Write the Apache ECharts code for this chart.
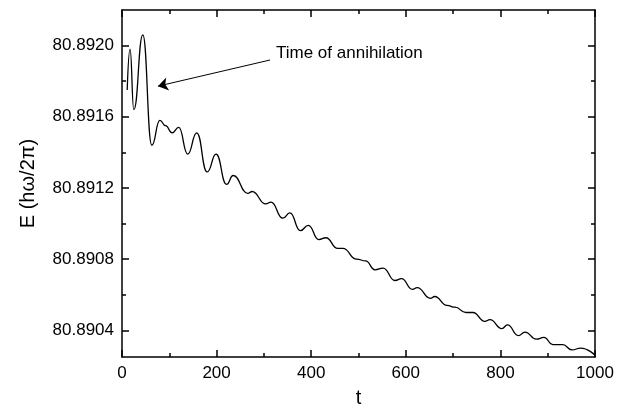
<!DOCTYPE html>
<html><head><meta charset="utf-8">
<script src="https://cdn.jsdelivr.net/npm/echarts@6/dist/echarts.min.js"></script>
<style>html,body{margin:0;padding:0;background:#fff}#c{width:625px;height:412px}</style>
</head><body><div id="c"></div>
<script>
const tValues = [11, 17, 25, 44, 63, 80, 92, 106, 120, 139, 158, 180, 199, 221, 235, 266, 275, 304, 315, 340, 355, 377, 394, 416, 431, 456, 467, 496, 515, 535, 552, 577, 591, 614, 624, 652, 661, 687, 704, 727, 742, 767, 778, 803, 815, 838, 852, 876, 892, 911, 932, 951, 970, 1000];
const eValues = [80.89175, 80.89198, 80.89164, 80.89206, 80.89144, 80.89158, 80.89155, 80.89151, 80.89154, 80.89139, 80.89151, 80.89129, 80.89139, 80.89122, 80.89127, 80.89117, 80.89118, 80.89111, 80.89112, 80.89103, 80.89106, 80.89096, 80.89099, 80.89091, 80.89092, 80.89086, 80.89086, 80.89080, 80.89079, 80.89074, 80.89075, 80.89068, 80.89069, 80.89063, 80.89064, 80.89058, 80.89059, 80.89054, 80.89053, 80.89050, 80.89050, 80.89045, 80.89046, 80.89041, 80.89043, 80.89037, 80.89039, 80.89035, 80.89036, 80.89032, 80.89032, 80.89029, 80.89030, 80.89026];
const yLabelValues = [80.8904, 80.8908, 80.8912, 80.8916, 80.8920];
const yMinorValues = [80.8906, 80.8910, 80.8914, 80.8918];
const xMin = 0, xMax = 1000, xInterval = 200;
const yMin = 80.89025, yMax = 80.8922;
const annotationText = 'Time of annihilation';
const arrowFrom = [313, 80.891919];
const arrowTo = [76, 80.891772];

const FONT = 'Liberation Sans, Arial, Helvetica, sans-serif';
const black = '#000';
const frameLine = {show: true, lineStyle: {color: black, width: 1.5}};

function xAx(pos, showLabel) {
  return {
    type: 'value', position: pos, min: xMin, max: xMax, interval: xInterval,
    axisLine: frameLine,
    axisTick: {show: true, inside: true, length: 7, lineStyle: {color: black, width: 1.5}},
    minorTick: {show: true, splitNumber: 2, length: 4, lineStyle: {color: black, width: 1.5}},
    splitLine: {show: false}, minorSplitLine: {show: false},
    axisLabel: {show: showLabel, color: black, fontSize: 17, fontFamily: FONT, margin: 8,
      formatter: v => String(v)},
    name: showLabel ? 't' : '', nameLocation: 'middle', nameGap: 31,
    nameTextStyle: {color: black, fontSize: 20, fontFamily: FONT}
  };
}
function yAx(pos, ticks, len, showLabel, showLine) {
  return {
    type: 'value', position: pos, min: yMin, max: yMax,
    axisLine: showLine ? frameLine : {show: false},
    axisTick: {show: true, inside: true, length: len, customValues: ticks, lineStyle: {color: black, width: 1.5}},
    splitLine: {show: false},
    axisLabel: {show: showLabel, customValues: yLabelValues, color: black, fontSize: 17, fontFamily: FONT, margin: 8,
      formatter: v => v.toFixed(4)},
    name: showLabel ? 'E (h\u03c9/2\u03c0)' : '', nameLocation: 'middle', nameGap: 84, nameRotate: 90,
    nameTextStyle: {color: black, fontSize: 20, fontFamily: FONT}
  };
}

const chart = echarts.init(document.getElementById('c'), null, {renderer: 'canvas'});
chart.setOption({
  backgroundColor: '#fff',
  animation: false,
  grid: {left: 122, right: 30, top: 10, bottom: 55, containLabel: false, outerBoundsMode: 'none'},
  xAxis: [xAx('bottom', true), xAx('top', false)],
  yAxis: [
    yAx('left', yLabelValues, 7, true, true),
    yAx('left', yMinorValues, 4, false, false),
    yAx('right', yLabelValues, 7, false, true),
    yAx('right', yMinorValues, 4, false, false)
  ],
  graphic: [{
    type: 'text', left: 276, top: 45,
    style: {text: annotationText, fill: black, font: '17px ' + FONT}
  }],
  series: [{
    type: 'line', xAxisIndex: 0, yAxisIndex: 0,
    data: tValues.map((t, i) => [t, eValues[i]]),
    showSymbol: false, smooth: 0.5, smoothMonotone: 'x',
    lineStyle: {color: black, width: 1.3},
    markLine: {
      silent: true, symbol: ['none', 'arrow'], symbolSize: 10,
      label: {show: false},
      lineStyle: {color: black, width: 1, type: 'solid'},
      data: [[{coord: arrowFrom}, {coord: arrowTo}]]
    }
  }]
});
</script></body></html>
